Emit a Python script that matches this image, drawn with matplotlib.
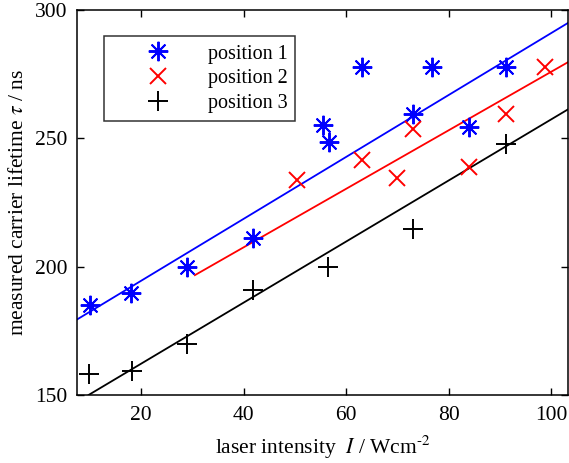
import matplotlib
matplotlib.use("Agg")
import matplotlib.pyplot as plt
import numpy as np

plt.rcParams['font.family'] = 'Liberation Serif'
plt.rcParams['mathtext.fontset'] = 'stix'

# measured points
x1 = [10.1, 18.1, 28.9, 41.8, 55.5, 56.7, 63.0, 73.1, 76.8, 83.9, 91.1]
y1 = [185.0, 189.8, 200.0, 211.0, 255.4, 248.6, 277.7, 259.6, 277.7, 254.4, 277.7]

x2 = [50.4, 63.0, 69.8, 73.1, 83.9, 91.2, 98.8]
y2 = [233.7, 241.4, 234.6, 253.8, 238.8, 259.6, 277.7]

x3 = [9.9, 18.2, 28.9, 41.8, 56.5, 73.1, 91.2]
y3 = [158.2, 159.5, 169.7, 191.1, 200.0, 214.6, 247.9]

# linear fits (end points of the drawn lines)
fit1_x = [7.6, 103.2]
fit1_y = [179.5, 295.0]
fit2_x = [30.5, 103.2]
fit2_y = [196.7, 279.7]
fit3_x = [9.8, 103.2]
fit3_y = [150.0, 261.3]

fig = plt.figure(figsize=(5.69, 4.63), dpi=100)
ax = fig.add_axes([0.136, 0.147, 0.862, 0.831])

asterisk = (8, 2, 0)
ax.plot(fit1_x, fit1_y, '-', color='#0000ff', lw=1.3)
ax.plot(fit2_x, fit2_y, '-', color='#ff0000', lw=1.3)
ax.plot(fit3_x, fit3_y, '-', color='black', lw=1.3)

ax.plot(x1, y1, ls='none', marker=asterisk, ms=14, mew=1.4, color='#0000ff',
        label='position 1')
ax.plot(x2, y2, ls='none', marker='x', ms=12, mew=1.4, color='#ff0000',
        label='position 2')
ax.plot(x3, y3, ls='none', marker='+', ms=15, mew=1.4, color='black',
        label='position 3')

ax.set_xlim(7.6, 103.2)
ax.set_ylim(150, 300)
ax.set_xticks([20, 40, 60, 80, 100])
ax.set_yticks([150, 200, 250, 300])
ax.tick_params(direction='in', top=True, right=True, labelsize=15.5,
               length=5, width=1)
ax.tick_params(axis='x', pad=8)
ax.tick_params(axis='y', pad=7)
for s in ax.spines.values():
    s.set_linewidth(1.1)

ax.set_xlabel(r'laser intensity  $I$ / Wcm$^{\text{-}2}$', fontsize=15.5, labelpad=6)
ax.set_ylabel(r'measured carrier lifetime $\tau$ / ns', fontsize=15.5, labelpad=5)

leg = ax.legend(loc='upper left', bbox_to_anchor=(0.054, 0.932), fontsize=14.5,
                frameon=True, fancybox=False, edgecolor='black',
                borderaxespad=0, handlelength=4.6, handletextpad=0.15,
                borderpad=0.4, labelspacing=0.28)
leg.get_frame().set_linewidth(1.1)

fig.savefig('out.png', dpi=100)
